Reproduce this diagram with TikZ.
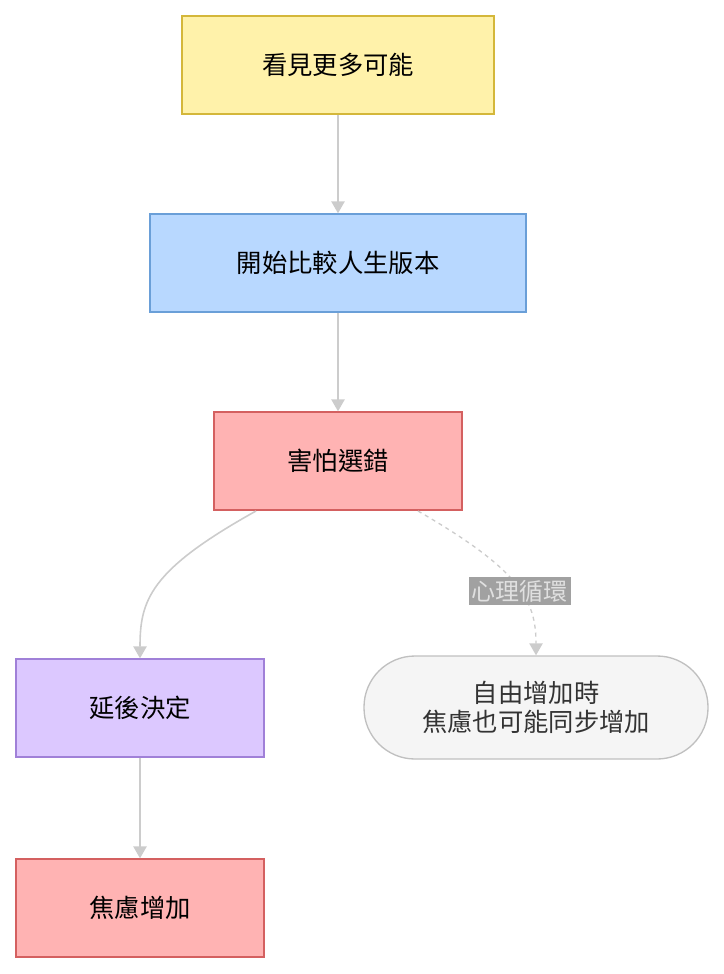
\documentclass[tikz,border=0pt]{standalone}
\usepackage{fontspec}
\setmainfont{Noto Sans CJK TC}
\usetikzlibrary{arrows.meta}
\definecolor{ylf}{HTML}{FFF2AA}\definecolor{yld}{HTML}{D4B73A}
\definecolor{blf}{HTML}{B8D8FF}\definecolor{bld}{HTML}{6A9FD8}
\definecolor{rdf}{HTML}{FFB3B3}\definecolor{rdd}{HTML}{D46060}
\definecolor{puf}{HTML}{DCC8FF}\definecolor{pud}{HTML}{A080D8}
\definecolor{grf}{HTML}{F5F5F5}\definecolor{grd}{HTML}{C0C0C0}
\definecolor{arr}{HTML}{CCCCCC}
\begin{document}
\begin{tikzpicture}[x=0.75pt,y=-0.75pt,
  box/.style={draw,line width=1pt,font=\fontsize{19}{24}\selectfont,align=center,inner sep=0pt},
  con/.style={draw=arr,line width=1.2pt,-{Triangle[length=9pt,width=10pt]}}]
\useasboundingbox (0,0) rectangle (724,974);
\node[box,fill=ylf,draw=yld,minimum width=312*0.75pt,minimum height=98*0.75pt] (a) at (338,65) {看見更多可能};
\node[box,fill=blf,draw=bld,minimum width=376*0.75pt,minimum height=98*0.75pt] (b) at (338,263) {開始比較人生版本};
\node[box,fill=rdf,draw=rdd,minimum width=248*0.75pt,minimum height=98*0.75pt] (c) at (338,461) {害怕選錯};
\node[box,fill=puf,draw=pud,minimum width=248*0.75pt,minimum height=98*0.75pt] (d) at (140,708) {延後決定};
\node[box,fill=rdf,draw=rdd,minimum width=248*0.75pt,minimum height=98*0.75pt] (e) at (140,908) {焦慮增加};
\node[box,fill=grf,draw=grd,rounded corners=51*0.75pt,minimum width=344*0.75pt,minimum height=103*0.75pt,text=black!80] (f) at (536,707.5) {自由增加時\\[-2pt]焦慮也可能同步增加};
\draw[con] (a) -- (b);
\draw[con] (b) -- (c);
\draw[con] (d) -- (e);
\coordinate (c1) at (256,511);
\coordinate (c2) at (418,511);
\draw[con] (c1) .. controls (150,570) and (140,600) .. (d.north);
\draw[con,dashed,line width=1pt] (c2) .. controls (520,570) and (536,600) .. (f.north)
  node[pos=0.55,fill=black!37,text=white!88!black,font=\fontsize{18}{22}\selectfont,inner sep=2pt] (l) {心理循環};
\end{tikzpicture}
\end{document}
